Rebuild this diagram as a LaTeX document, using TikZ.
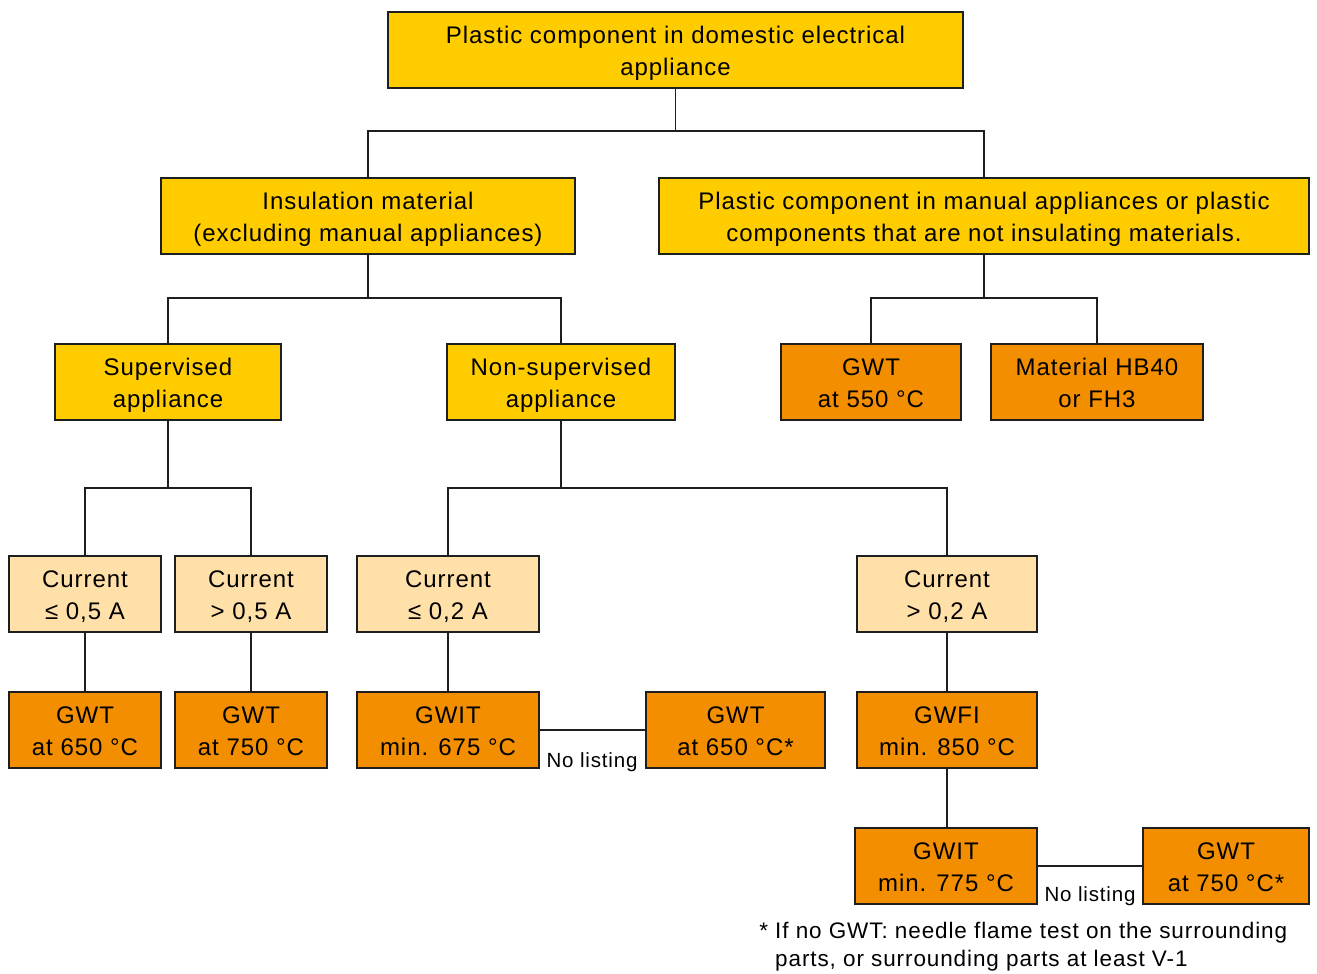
\documentclass[tikz,border=0pt]{standalone}
\usepackage{fontspec}
\setmainfont{Liberation Sans}[LetterSpace=4]
\definecolor{yel}{RGB}{255,204,0}
\definecolor{org}{RGB}{242,142,0}
\definecolor{lig}{RGB}{255,224,168}
\definecolor{edge}{RGB}{30,30,30}
\begin{document}
\begin{tikzpicture}[x=1pt,y=-1pt,
  box/.style={draw=edge, line width=1.3pt, align=center, inner sep=0pt,
    minimum height=76pt, text height=55pt, text depth=5pt,
    font=\fontsize{24}{32}\selectfont},
  ybox/.style={box, fill=yel},
  obox/.style={box, fill=org},
  lbox/.style={box, fill=lig},
  link/.style={draw=edge, line width=1.3pt},
  note/.style={font=\fontsize{20.5}{28.5}\selectfont, inner sep=0pt}]
\useasboundingbox[fill=white] (0,0) rectangle (1317,974);

\node[ybox, minimum width=575pt] (top) at (675.5,50) {Plastic component in domestic electrical\\appliance};
\node[ybox, minimum width=414pt] (ins) at (368,216) {Insulation material\\(excluding manual appliances)};
\node[ybox, minimum width=650pt] (man) at (984,216) {Plastic component in manual appliances or plastic\\components that are not insulating materials.};
\node[ybox, minimum width=226pt] (sup) at (168,382) {Supervised\\appliance};
\node[ybox, minimum width=228pt] (non) at (561,382) {Non-supervised\\appliance};
\node[obox, minimum width=180pt] (g550) at (871,382) {GWT\\at 550 °C};
\node[obox, minimum width=212pt] (hb) at (1097,382) {Material HB40\\or FH3};
\node[lbox, minimum width=152pt] (c05a) at (85,594) {Current\\≤ 0,5 A};
\node[lbox, minimum width=152pt] (c05b) at (251,594) {Current\\> 0,5 A};
\node[lbox, minimum width=182pt] (c02a) at (448,594) {Current\\≤ 0,2 A};
\node[lbox, minimum width=180pt] (c02b) at (947,594) {Current\\> 0,2 A};
\node[obox, minimum width=152pt] (g650) at (85,730) {GWT\\at 650 °C};
\node[obox, minimum width=152pt] (g750) at (251,730) {GWT\\at 750 °C};
\node[obox, minimum width=182pt] (g675) at (448,730) {GWIT\\min. 675 °C};
\node[obox, minimum width=179pt] (g650s) at (735.5,730) {GWT\\at 650 °C*};
\node[obox, minimum width=180pt] (gwfi) at (947,730) {GWFI\\min. 850 °C};
\node[obox, minimum width=182pt] (g775) at (946,866) {GWIT\\min. 775 °C};
\node[obox, minimum width=166pt] (g750s) at (1226,866) {GWT\\at 750 °C*};

\coordinate (j1) at (675.5,131);
\coordinate (j2) at (368,298);
\coordinate (j3) at (984,298);
\coordinate (j4) at (168,488);
\coordinate (j5) at (561,488);

\path[link] (top) -- (j1);
\path[link] (ins.north) |- (j1) -| (man.north);
\path[link] (ins) -- (j2);
\path[link] (sup.north) |- (j2) -| (non.north);
\path[link] (man) -- (j3);
\path[link] (g550.north) |- (j3) -| (hb.north);
\path[link] (sup) -- (j4);
\path[link] (c05a.north) |- (j4) -| (c05b.north);
\path[link] (non) -- (j5);
\path[link] (c02a.north) |- (j5) -| (c02b.north);
\path[link] (c05a) -- (g650);
\path[link] (c05b) -- (g750);
\path[link] (c02a) -- (g675);
\path[link] (c02b) -- (gwfi);
\path[link] (gwfi.south) -- (gwfi.south |- g775.north);
\path[link] (g675) -- (g650s);
\path[link] (g775) -- (g750s);

\node[note, anchor=base] (nl1) at (592,767) {No listing};
\node[note, anchor=base] (nl2) at (1090,901.5) {No listing};
\node[note, font=\fontsize{22.5}{28.5}\selectfont, anchor=base west, align=left] (fn) at (775,966.7) {\llap{*\ }If no GWT: needle flame test on the surrounding\\parts, or surrounding parts at least V-1};
\end{tikzpicture}
\end{document}
